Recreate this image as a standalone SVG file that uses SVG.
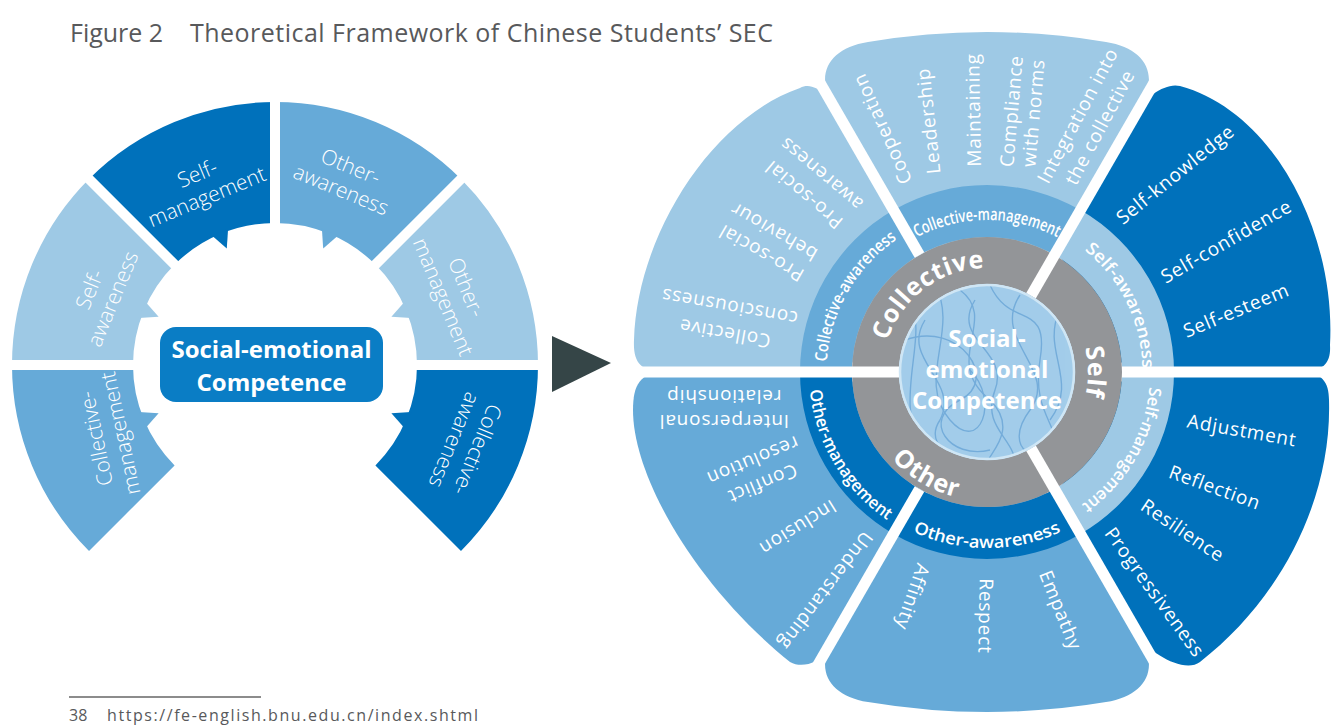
<svg xmlns="http://www.w3.org/2000/svg" width="1331" height="725" viewBox="0 0 1331 725">
<defs>
<style>
.lt{fill:#9ec9e5}.md{fill:#66aad8}.dk{fill:#0071bb}
.gap{stroke:#fff;stroke-width:10;fill:none}
.gap2{stroke:#fff;stroke-width:11;fill:none}
.seg{font-family:'Open Sans','Liberation Sans',sans-serif;font-weight:300;font-size:21px;fill:#fff;text-anchor:middle}
.pt{font-family:'Open Sans','Liberation Sans',sans-serif;font-size:19px;letter-spacing:0.8px;fill:#fff;text-anchor:middle}
.bd{font-family:'Open Sans','Liberation Sans',sans-serif;font-weight:600;font-size:17px;fill:#fff;text-anchor:middle}
.rg{font-family:'Open Sans','Liberation Sans',sans-serif;font-weight:700;font-size:25px;letter-spacing:0.8px;fill:#fff;text-anchor:middle}
.ctr{font-family:'Open Sans','Liberation Sans',sans-serif;font-weight:700;font-size:24px;fill:#fff;text-anchor:middle}
.ttl{font-family:'Open Sans','Liberation Sans',sans-serif;font-size:25px;fill:#58595b}
.ftr{font-family:'Open Sans','Liberation Sans',sans-serif;font-size:16px;fill:#58595b}
</style>
<clipPath id="cc"><circle cx="987" cy="372" r="88"/></clipPath>
<path id="pCM" d="M855.4,296 A152,152 0 0 1 1118.6,296"/>
<path id="pCA" d="M836.6,428 A160,160 0 0 1 959.2,214.4"/>
<path id="pSA" d="M1020.6,219.6 A155,155 0 0 1 1127.5,437.5"/>
<path id="pSM" d="M1140.2,315.9 A163,163 0 0 1 1015.3,532.5"/>
<path id="pOA" d="M821.6,432.2 A176,176 0 0 0 1152.4,432.2"/>
<path id="pOM" d="M818.7,313.8 A179,179 0 0 0 959,548.8"/>
<path id="pCol" d="M884.6,390.1 A104,104 0 0 1 1032.6,278.5"/>
<path id="pSelf" d="M1064.4,307.1 A101,101 0 0 1 1064.4,436.9"/>
<path id="pOth" d="M865.4,415.1 A129,129 0 0 0 1008.3,499.2"/>
</defs>
<rect width="1331" height="725" fill="#fff"/>

<g id="title">
<text class="ttl" x="70" y="42">Figure 2</text>
<text class="ttl" x="190" y="42" textLength="583" lengthAdjust="spacing">Theoretical Framework of Chinese Students’ SEC</text>
</g>

<g id="left-ring">
<g id="seg-self-awareness">
<path class="lt" d="M12,365 A263,263 0 0 1 89.03,179.03 L174.59,264.59 A142,142 0 0 0 133,365 Z"/>
<polygon class="lt" points="145.6,301.9 158.6,316.8 138.8,318.1"/>
<text class="seg" transform="translate(101,294) rotate(-67.5)"><tspan x="0" y="-5">Self-</tspan><tspan x="0" y="20">awareness</tspan></text>
</g>
<g id="seg-self-management">
<path class="dk" d="M89.03,179.03 A263,263 0 0 1 275,102 L275,223 A142,142 0 0 0 174.59,264.59 Z"/>
<polygon class="dk" points="228.1,228.8 226.8,248.6 211.9,235.6"/>
<text class="seg" transform="translate(202,185) rotate(-22.5)"><tspan x="0" y="-5">Self-</tspan><tspan x="0" y="20">management</tspan></text>
</g>
<g id="seg-other-awareness">
<path class="md" d="M275,102 A263,263 0 0 1 460.97,179.03 L375.41,264.59 A142,142 0 0 0 275,223 Z"/>
<polygon class="md" points="321.9,228.8 323.2,248.6 338.1,235.6"/>
<text class="seg" transform="translate(346,178) rotate(22.5)"><tspan x="0" y="-5">Other-</tspan><tspan x="0" y="20">awareness</tspan></text>
</g>
<g id="seg-other-management">
<path class="lt" d="M460.97,179.03 A263,263 0 0 1 538,365 L417,365 A142,142 0 0 0 375.41,264.59 Z"/>
<polygon class="lt" points="404.4,301.9 391.4,316.8 411.2,318.1"/>
<text class="seg" transform="translate(455,292) rotate(67.5)"><tspan x="0" y="-5">Other-</tspan><tspan x="0" y="20">management</tspan></text>
</g>
<g id="seg-collective-awareness">
<path class="dk" d="M538,365 A263,263 0 0 1 460.97,550.97 L375.41,465.41 A142,142 0 0 0 417,365 Z"/>
<polygon class="dk" points="404.4,428.1 391.4,413.2 411.2,411.9"/>
<text class="seg" transform="translate(466,445) rotate(112.5)"><tspan x="0" y="-5">Collective-</tspan><tspan x="0" y="20">awareness</tspan></text>
</g>
<g id="seg-collective-management">
<path class="md" d="M89.03,550.97 A263,263 0 0 1 12,365 L133,365 A142,142 0 0 0 174.59,465.41 Z"/>
<polygon class="md" points="145.6,428.1 158.6,413.2 138.8,411.9"/>
<text class="seg" transform="translate(108,436) rotate(-102)"><tspan x="0" y="-5">Collective-</tspan><tspan x="0" y="20">management</tspan></text>
</g>
<g id="left-gaps">
<line class="gap" x1="413" y1="365" x2="543" y2="365"/>
<line class="gap" x1="372.6" y1="267.4" x2="464.5" y2="175.5"/>
<line class="gap" x1="275" y1="227" x2="275" y2="97"/>
<line class="gap" x1="177.4" y1="267.4" x2="85.5" y2="175.5"/>
<line class="gap" x1="137" y1="365" x2="7" y2="365"/>
</g>
<g id="left-center">
<rect x="160" y="327" width="223" height="75" rx="16" fill="#0a7dc5"/>
<text class="ctr" x="271.5" y="358">Social-emotional</text>
<text class="ctr" x="271.5" y="391">Competence</text>
</g>
</g>

<g id="connectors">
<polygon points="552,336 552,392 611,363" fill="#354547"/>
</g>

<g id="right-wheel">
<g id="petals">
<path id="petal-self-awareness" class="dk" d="M1127,372 L1300,372 C1325,372 1331,362 1330,345 C1336,235 1275,112 1180,86 C1165,82 1144.5,99 1139.5,108 L1057,250.8 Z"/>
<path id="petal-collective-management" class="lt" d="M917,250.8 L832,103 C815,73 830,48 868,42 Q987,22 1106,42 C1144,48 1159,73 1142,103 L1057,250.8 Z"/>
<path id="petal-collective-awareness" class="lt" d="M847,372 L665,372 C640,372 633,362 634,340 C637,235 712,118 800,88 C815,80 829.5,99 834.5,108 L917,250.8 Z"/>
<path id="petal-other-management" class="md" d="M847,372 L665,372 C640,372 633,385 633,410 C633,480 700,590 790,662 C802,669 819.5,662 824.5,653.5 L917,493.2 Z"/>
<path id="petal-other-awareness" class="md" d="M917,493.2 L832,641 C815,671 830,696 868,702 Q987,722 1106,702 C1144,696 1159,671 1142,641 L1057,493.2 Z"/>
<path id="petal-self-management" class="dk" d="M1127,372 L1300,372 C1322,372 1329,382 1329,400 C1332,500 1280,600 1200,662 C1183,675 1147,649 1142,640.5 L1057,493.2 Z"/>
</g>
<g id="band">
<path class="lt" d="M1174,372 A187,187 0 0 0 1080.5,210.1 L1054.5,255.1 A135,135 0 0 1 1122,372 Z"/>
<path class="md" d="M1080.5,210.1 A187,187 0 0 0 893.5,210.1 L919.5,255.1 A135,135 0 0 1 1054.5,255.1 Z"/>
<path class="md" d="M893.5,210.1 A187,187 0 0 0 800,372 L852,372 A135,135 0 0 1 919.5,255.1 Z"/>
<path class="dk" d="M800,372 A187,187 0 0 0 893.5,533.9 L919.5,488.9 A135,135 0 0 1 852,372 Z"/>
<path class="dk" d="M893.5,533.9 A187,187 0 0 0 1080.5,533.9 L1054.5,488.9 A135,135 0 0 1 919.5,488.9 Z"/>
<path class="lt" d="M1080.5,533.9 A187,187 0 0 0 1174,372 L1122,372 A135,135 0 0 1 1054.5,488.9 Z"/>
</g>
<circle id="gray-ring" cx="987" cy="372" r="111.5" fill="none" stroke="#939598" stroke-width="47"/>
<g id="right-gaps">
<line class="gap2" x1="1122" y1="372" x2="1347" y2="372"/>
<line class="gap2" x1="1031" y1="295.8" x2="1167" y2="60.2"/>
<line class="gap2" x1="919.5" y1="255.1" x2="807" y2="60.2"/>
<line class="gap2" x1="899" y1="372" x2="627" y2="372"/>
<line class="gap2" x1="919.5" y1="488.9" x2="807" y2="683.8"/>
<line class="gap2" x1="1031" y1="448.2" x2="1167" y2="683.8"/>
</g>
<g id="core">
<circle cx="987" cy="372" r="88" fill="#a3cdea"/>
<g clip-path="url(#cc)" fill="none" stroke="#4f93cc" stroke-width="1.4" opacity="0.55">
<path d="M910,300 C930,340 890,400 925,455"/>
<path d="M935,285 C960,330 915,380 950,420 C980,455 1000,400 970,370"/>
<path d="M960,290 C1000,320 940,360 990,400 C1030,440 960,470 1000,465"/>
<path d="M990,285 C1010,330 1050,300 1040,360 C1030,420 1070,430 1050,460"/>
<path d="M1020,295 C990,340 1060,370 1030,410 C1000,450 1040,470 1060,440"/>
<path d="M905,340 C960,320 1000,380 960,400 C920,420 950,460 990,450"/>
<path d="M1060,310 C1040,350 1080,380 1050,420"/>
<path d="M925,320 C900,360 960,380 940,420 C920,450 970,460 955,470"/>
<path d="M975,300 C950,340 1010,350 995,390 C980,430 1020,440 1015,470"/>
</g>
<circle cx="987" cy="372" r="87" fill="none" stroke="#cfe6f5" stroke-width="2.5"/>
<text class="ctr" x="987" y="347">Social-</text>
<text class="ctr" x="987" y="378">emotional</text>
<text class="ctr" x="987" y="409">Competence</text>
</g>
<g id="ring-labels">
<text class="rg"><textPath href="#pCol" startOffset="50%">Collective</textPath></text>
<text class="rg"><textPath href="#pSelf" startOffset="50%">Self</textPath></text>
<text class="rg"><textPath href="#pOth" startOffset="50%">Other</textPath></text>
</g>
<g id="band-labels">
<text class="bd"><textPath href="#pCM" startOffset="50%" textLength="146" lengthAdjust="spacingAndGlyphs">Collective-management</textPath></text>
<text class="bd"><textPath href="#pCA" startOffset="50%" textLength="146" lengthAdjust="spacingAndGlyphs">Collective-awareness</textPath></text>
<text class="bd"><textPath href="#pSA" startOffset="50%" textLength="136" lengthAdjust="spacingAndGlyphs">Self-awareness</textPath></text>
<text class="bd"><textPath href="#pSM" startOffset="50%" textLength="140" lengthAdjust="spacingAndGlyphs">Self-management</textPath></text>
<text class="bd"><textPath href="#pOA" startOffset="50%" textLength="153" lengthAdjust="spacingAndGlyphs">Other-awareness</textPath></text>
<text class="bd"><textPath href="#pOM" startOffset="50%" textLength="156" lengthAdjust="spacingAndGlyphs">Other-management</textPath></text>
</g>
<g id="petal-labels">
<text class="pt" transform="translate(882,129) rotate(-114)" y="7">Cooperation</text>
<text class="pt" transform="translate(928,121) rotate(-96)" y="7">Leadership</text>
<text class="pt" transform="translate(973,110) rotate(-91)" y="7">Maintaining</text>
<text class="pt" transform="translate(1022,112) rotate(-85)"><tspan x="0" y="-4">Compliance</tspan><tspan x="0" y="18">with norms</tspan></text>
<text class="pt" transform="translate(1088,121) rotate(-62)"><tspan x="0" y="-5">Integration into</tspan><tspan x="0" y="20">the collective</tspan></text>
<text class="pt" transform="translate(1175,174) rotate(-39)" y="7">Self-knowledge</text>
<text class="pt" transform="translate(1226,241) rotate(-30)" y="7">Self-confidence</text>
<text class="pt" transform="translate(1236,310) rotate(-22.6)" y="7">Self-esteem</text>
<text class="pt" transform="translate(1242,430) rotate(10)" y="7">Adjustment</text>
<text class="pt" transform="translate(1215,487) rotate(20)" y="7">Reflection</text>
<text class="pt" transform="translate(1183,530) rotate(34)" y="7">Resilience</text>
<text class="pt" transform="translate(1155,592) rotate(54)" y="7">Progressiveness</text>
<text class="pt" transform="translate(913,597) rotate(109)" y="7">Affinity</text>
<text class="pt" transform="translate(986,616) rotate(91)" y="7">Respect</text>
<text class="pt" transform="translate(1061,610) rotate(68)" y="7">Empathy</text>
<text class="pt" transform="translate(724,410) rotate(180)"><tspan x="0" y="-5">Interpersonal</tspan><tspan x="0" y="20">relationship</tspan></text>
<text class="pt" transform="translate(758,473) rotate(157)"><tspan x="0" y="-5">Conflict</tspan><tspan x="0" y="20">resolution</tspan></text>
<text class="pt" transform="translate(798,528) rotate(148)" y="7">Inclusion</text>
<text class="pt" transform="translate(826,591) rotate(127)" y="7">Understanding</text>
<text class="pt" transform="translate(727,321) rotate(190)"><tspan x="0" y="-6">Collective</tspan><tspan x="0" y="21">consciousness</tspan></text>
<text class="pt" transform="translate(767,243) rotate(210)"><tspan x="0" y="-5">Pro-social</tspan><tspan x="0" y="20">behaviour</tspan></text>
<text class="pt" transform="translate(812,185) rotate(220)"><tspan x="0" y="-6">Pro-social</tspan><tspan x="0" y="21">awareness</tspan></text>
</g>
</g>

<g id="footer">
<line x1="69" y1="697" x2="261" y2="697" stroke="#8c8c8c" stroke-width="2"/>
<text class="ftr" x="69" y="721">38</text>
<text class="ftr" x="107" y="721" textLength="371" lengthAdjust="spacing">https://fe-english.bnu.edu.cn/index.shtml</text>
</g>
</svg>
